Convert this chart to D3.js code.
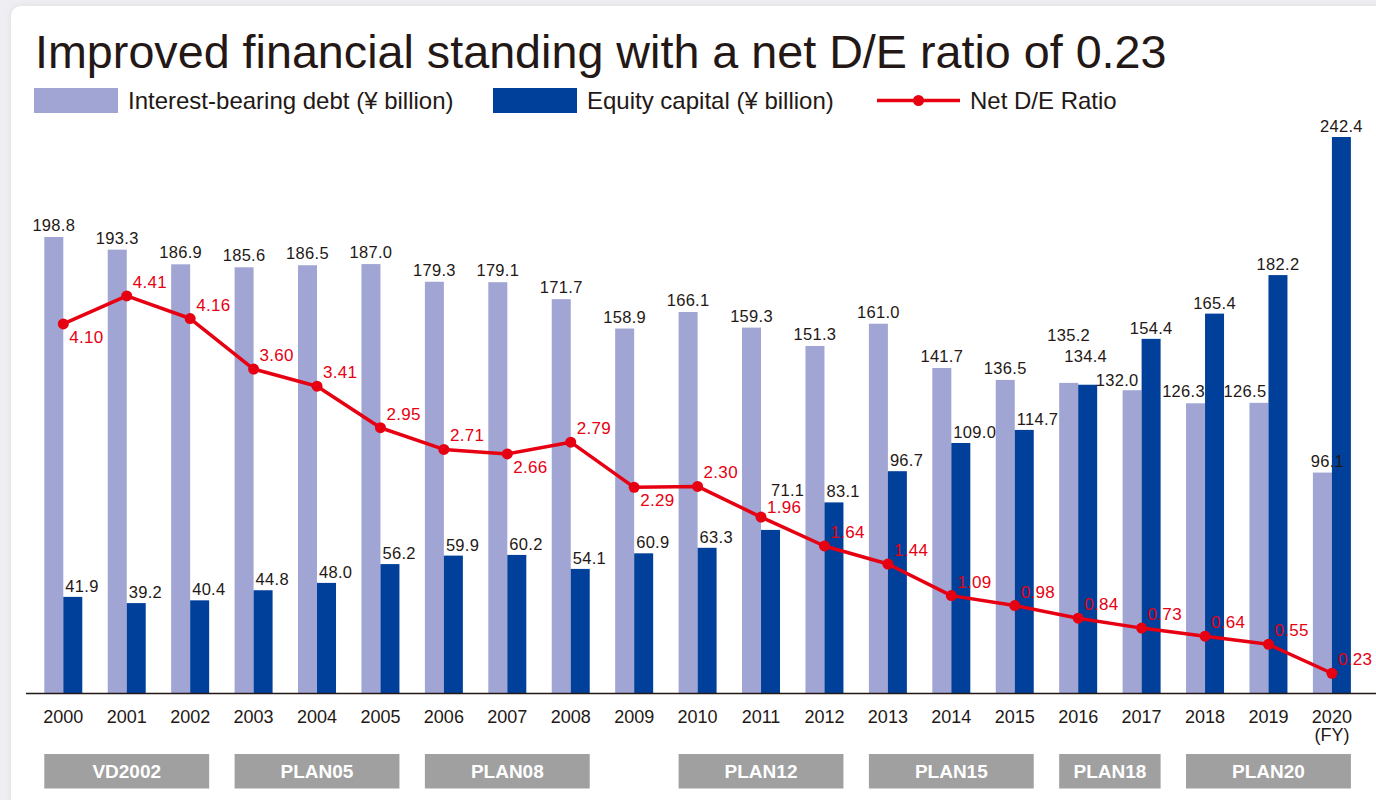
<!DOCTYPE html>
<html>
<head>
<meta charset="utf-8">
<script src="https://cdn.jsdelivr.net/npm/d3@7"></script>
<style>
  body { margin: 0; background: #efeff3; overflow: hidden; }
  svg { display: block; font-family: "Liberation Sans", Arial, Helvetica, sans-serif; }
</style>
</head>
<body>
<script>

// data
var years = ["2000", "2001", "2002", "2003", "2004", "2005", "2006", "2007", "2008", "2009", "2010",
             "2011", "2012", "2013", "2014", "2015", "2016", "2017", "2018", "2019", "2020"];
var debt = [198.8, 193.3, 186.9, 185.6, 186.5, 187.0, 179.3, 179.1, 171.7, 158.9, 166.1,
            159.3, 151.3, 161.0, 141.7, 136.5, 135.2, 132.0, 126.3, 126.5, 96.1];
var equity = [41.9, 39.2, 40.4, 44.8, 48.0, 56.2, 59.9, 60.2, 54.1, 60.9, 63.3,
              71.1, 83.1, 96.7, 109.0, 114.7, 134.4, 154.4, 165.4, 182.2, 242.4];
var ratio = [4.10, 4.41, 4.16, 3.60, 3.41, 2.95, 2.71, 2.66, 2.79, 2.29, 2.30,
             1.96, 1.64, 1.44, 1.09, 0.98, 0.84, 0.73, 0.64, 0.55, 0.23];
var plans = [
  {name: "VD2002", from: "2000", to: "2002"},
  {name: "PLAN05", from: "2003", to: "2005"},
  {name: "PLAN08", from: "2006", to: "2008"},
  {name: "PLAN12", from: "2010", to: "2012"},
  {name: "PLAN15", from: "2013", to: "2015"},
  {name: "PLAN18", from: "2016", to: "2017"},
  {name: "PLAN20", from: "2018", to: "2020"}
];
var legendNames = ["Interest-bearing debt (\u00a5 billion)", "Equity capital (\u00a5 billion)", "Net D/E Ratio"];
var titleText = "Improved financial standing with a net D/E ratio of 0.23";

// label placement tweaks (where the original moved labels out of the way)
var ratioBelow = ["2000", "2007", "2009"];
var ratioLabelShift = {"2011": 4};
var debtLabelShift = {"2016": [0, -36], "2017": [-15, 2], "2018": [-12, 0], "2019": [-14, 0], "2020": [5, 0]};
var equityLabelShift = {"2011": [8, -29], "2016": [-2, -18]};

var textColor = "#231815";
var debtColor = "#a0a5d3";
var equityColor = "#00409a";
var red = "#e60012";

function makeChart() {
  const W = 1376, H = 800;
  const base = 693;

  const svg = d3.select("body")
                .append("svg")
                .attr("width", W)
                .attr("height", H);

  // card
  var defs = svg.append("defs");
  var f = defs.append("filter").attr("id", "shadow").attr("x", "-5%").attr("y", "-5%")
              .attr("width", "110%").attr("height", "110%");
  f.append("feDropShadow").attr("dx", 0).attr("dy", 0).attr("stdDeviation", 3)
   .attr("flood-color", "#000").attr("flood-opacity", 0.08);

  svg.append("rect")
     .attr("x", 11).attr("y", 6)
     .attr("width", W + 40).attr("height", H + 40)
     .attr("rx", 10)
     .attr("fill", "#fff")
     .attr("filter", "url(#shadow)");

  // title
  svg.append("text")
     .attr("x", 35).attr("y", 68)
     .attr("font-size", 46.7)
     .attr("fill", textColor)
     .text(titleText);

  // scales
  let step = 63.43;
  let x = d3.scaleBand()
            .domain(years)
            .range([44.3, 44.3 + step * (years.length - 0.401)])
            .paddingInner(0.401)
            .paddingOuter(0);
  let xSub = d3.scaleBand()
               .domain(["debt", "equity"])
               .range([0, x.bandwidth()]);
  let y = d3.scaleLinear()
            .domain([0, 250])
            .range([base, base - 250 * 2.2937]);
  let yRatio = d3.scaleLinear()
                 .domain([0, 5])
                 .range([base + 1, base + 1 - 5 * 90.26]);

  var rows = years.map(function(yr, i) {
    return {year: yr, debt: debt[i], equity: equity[i], ratio: ratio[i]};
  });

  // bars
  svg.append("g").selectAll("rect")
     .data(rows).enter().append("rect")
       .attr("x", function(d) { return x(d.year) + xSub("debt"); })
       .attr("y", function(d) { return y(d.debt); })
       .attr("width", xSub.bandwidth())
       .attr("height", function(d) { return base - y(d.debt); })
       .attr("fill", debtColor);

  svg.append("g").selectAll("rect")
     .data(rows).enter().append("rect")
       .attr("x", function(d) { return x(d.year) + xSub("equity"); })
       .attr("y", function(d) { return y(d.equity); })
       .attr("width", xSub.bandwidth())
       .attr("height", function(d) { return base - y(d.equity); })
       .attr("fill", equityColor);

  // bar value labels
  svg.append("g").selectAll("text")
     .data(rows).enter().append("text")
       .attr("x", function(d) {
         var s = debtLabelShift[d.year] || [0, 0];
         return x(d.year) + xSub("debt") + xSub.bandwidth() / 2 + s[0];
       })
       .attr("y", function(d) {
         var s = debtLabelShift[d.year] || [0, 0];
         return y(d.debt) - 6 + s[1];
       })
       .attr("text-anchor", "middle")
       .attr("font-size", 16.5)
       .attr("letter-spacing", 0.3)
       .attr("fill", textColor)
       .text(function(d) { return d.debt.toFixed(1); });

  svg.append("g").selectAll("text")
     .data(rows).enter().append("text")
       .attr("x", function(d) {
         var left = x(d.year) + xSub("equity");
         var s = equityLabelShift[d.year] || [0, 0];
         if (+d.year >= 2016) return left + xSub.bandwidth() / 2 + s[0];
         return left + 2 + s[0];
       })
       .attr("y", function(d) {
         var s = equityLabelShift[d.year] || [0, 0];
         return y(d.equity) - 5 + s[1];
       })
       .attr("text-anchor", function(d) { return +d.year >= 2016 ? "middle" : "start"; })
       .attr("font-size", 16.5)
       .attr("letter-spacing", 0.3)
       .attr("fill", textColor)
       .text(function(d) { return d.equity.toFixed(1); });

  // axis line
  svg.append("line")
     .attr("x1", 26).attr("x2", W)
     .attr("y1", base + 0.5).attr("y2", base + 0.5)
     .attr("stroke", textColor)
     .attr("stroke-width", 1.5);

  // year labels
  svg.append("g").selectAll("text")
     .data(years).enter().append("text")
       .attr("x", function(d) { return x(d) + x.bandwidth() / 2; })
       .attr("y", 723)
       .attr("text-anchor", "middle")
       .attr("font-size", 18)
       .attr("fill", textColor)
       .text(function(d) { return d; });

  svg.append("text")
     .attr("x", x("2020") + x.bandwidth() / 2)
     .attr("y", 741)
     .attr("text-anchor", "middle")
     .attr("font-size", 18)
     .attr("fill", textColor)
     .text("(FY)");

  // ratio line
  var cx = function(d) { return x(d.year) + x.bandwidth() / 2; };
  var line = d3.line()
               .x(cx)
               .y(function(d) { return yRatio(d.ratio); });

  svg.append("path")
     .datum(rows)
     .attr("d", line)
     .attr("fill", "none")
     .attr("stroke", red)
     .attr("stroke-width", 3.5)
     .attr("stroke-linejoin", "round");

  svg.append("g").selectAll("circle")
     .data(rows).enter().append("circle")
       .attr("cx", cx)
       .attr("cy", function(d) { return yRatio(d.ratio); })
       .attr("r", 5.5)
       .attr("fill", red);

  svg.append("g").selectAll("text")
     .data(rows).enter().append("text")
       .attr("x", function(d) { return cx(d) + 6; })
       .attr("y", function(d) {
         var dy = ratioBelow.includes(d.year) ? 19 : -8;
         return yRatio(d.ratio) + dy + (ratioLabelShift[d.year] || 0);
       })
       .attr("font-size", 17)
       .attr("letter-spacing", 0.3)
       .attr("fill", red)
       .text(function(d) { return d.ratio.toFixed(2); });

  // plan boxes
  var planG = svg.append("g").selectAll("g")
     .data(plans).enter().append("g");

  planG.append("rect")
       .attr("x", function(d) { return x(d.from); })
       .attr("y", 754)
       .attr("width", function(d) { return x(d.to) + x.bandwidth() - x(d.from); })
       .attr("height", 34.5)
       .attr("fill", "#a0a0a0");

  planG.append("text")
       .attr("x", function(d) { return (x(d.from) + x(d.to) + x.bandwidth()) / 2; })
       .attr("y", 778)
       .attr("text-anchor", "middle")
       .attr("font-size", 19)
       .attr("font-weight", "bold")
       .attr("fill", "#fff")
       .text(function(d) { return d.name; });

  // legend
  var legend = svg.append("g");
  legend.append("rect").attr("x", 34).attr("y", 88).attr("width", 84).attr("height", 25).attr("fill", debtColor);
  legend.append("text").attr("x", 128).attr("y", 108.5).attr("font-size", 24)
        .attr("fill", textColor).text(legendNames[0]);

  legend.append("rect").attr("x", 493).attr("y", 88).attr("width", 84).attr("height", 25).attr("fill", equityColor);
  legend.append("text").attr("x", 587).attr("y", 108.5).attr("font-size", 24)
        .attr("fill", textColor).text(legendNames[1]);

  legend.append("line").attr("x1", 877).attr("x2", 960).attr("y1", 100.5).attr("y2", 100.5)
        .attr("stroke", red).attr("stroke-width", 3.5);
  legend.append("circle").attr("cx", 918.5).attr("cy", 100.5).attr("r", 5.5).attr("fill", red);
  legend.append("text").attr("x", 970).attr("y", 108.5).attr("font-size", 24)
        .attr("fill", textColor).text(legendNames[2]);
}

window.onload = function() {
  makeChart()
};
</script>
</body>
</html>
